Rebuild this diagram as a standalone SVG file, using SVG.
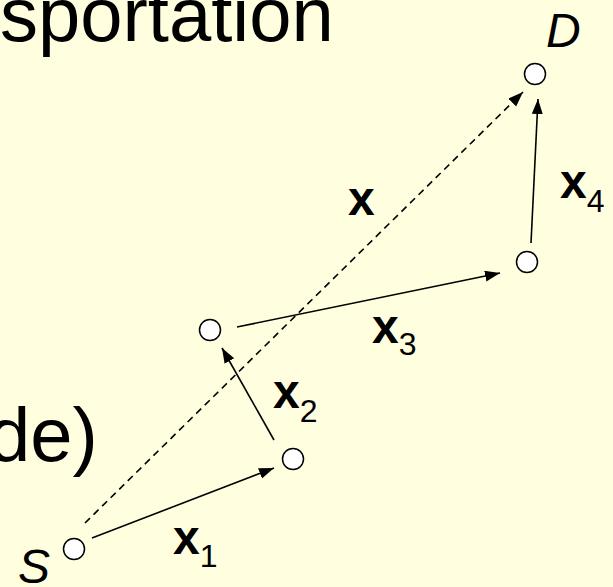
<svg xmlns="http://www.w3.org/2000/svg" width="613" height="587" viewBox="0 0 613 587">
<style>
.bg{fill:#FFFFE0}
.big{font-family:"Liberation Sans",Arial,sans-serif;font-size:76px;fill:#000}
.lbl{font-family:"Liberation Sans",Arial,sans-serif;font-size:48px;font-weight:bold;fill:#000}
.sub{font-size:32px;font-weight:normal}
.it{font-family:"Liberation Sans",Arial,sans-serif;font-size:48px;font-style:italic;fill:#000}
.node{fill:#fff;stroke:#000;stroke-width:1.5}
.edge{stroke:#000;stroke-width:1.6;fill:none;marker-end:url(#ah)}
.dash{stroke-dasharray:7 5}
</style>
<defs>
<marker id="ah" markerUnits="userSpaceOnUse" markerWidth="16" markerHeight="12" refX="15" refY="5.5" orient="auto">
<path d="M0,0 L15,5.5 L0,11 z" fill="#000"/>
</marker>
</defs>
<rect class="bg" x="0" y="0" width="613" height="587"/>
<text class="big" x="0" y="41">sportation</text>
<text class="big" x="-12" y="461">de)</text>
<g id="connectors">
<line class="edge dash" x1="85" y1="523" x2="523" y2="92"/>
<line class="edge" x1="92" y1="538" x2="274" y2="468"/>
<line class="edge" x1="274" y1="440" x2="222" y2="348"/>
<line class="edge" x1="237" y1="327" x2="500" y2="273"/>
<line class="edge" x1="531" y1="243" x2="538" y2="99"/>
</g>
<g id="node-S"><circle class="node" cx="74" cy="549" r="10.5"/><text class="it" x="18" y="583">S</text></g>
<g id="node-1"><circle class="node" cx="293" cy="459" r="10.5"/></g>
<g id="node-2"><circle class="node" cx="210" cy="330" r="10.5"/></g>
<g id="node-3"><circle class="node" cx="527" cy="262" r="10.5"/></g>
<g id="node-D"><circle class="node" cx="535" cy="74" r="10.5"/><text class="it" x="546" y="47">D</text></g>
<g id="labels">
<text class="lbl" x="348" y="215">x</text>
<text class="lbl" x="173" y="554">x<tspan class="sub" dy="13">1</tspan></text>
<text class="lbl" x="273" y="408">x<tspan class="sub" dy="14">2</tspan></text>
<text class="lbl" x="372" y="343">x<tspan class="sub" dy="12">3</tspan></text>
<text class="lbl" x="560" y="198">x<tspan class="sub" dy="14">4</tspan></text>
</g>
</svg>
